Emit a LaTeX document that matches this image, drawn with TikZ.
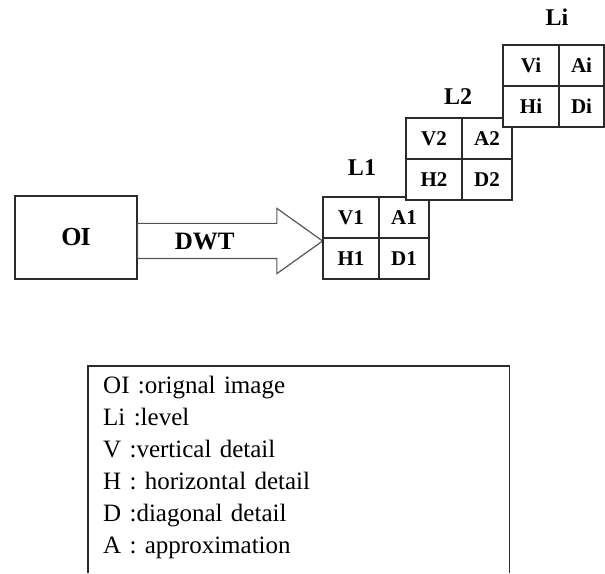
\documentclass[tikz,border=0pt]{standalone}
\usepackage{fontspec}
\setmainfont{Liberation Serif}
\usetikzlibrary{positioning,shapes.arrows}
\definecolor{gridDark}{HTML}{2B2B2B}
\definecolor{arrowGray}{HTML}{555555}
\tikzset{
  dwtCell/.style={
    draw=gridDark,
    fill=white,
    line width=1.6pt,
    minimum width=56pt,
    minimum height=41pt,
    inner sep=0pt,
    outer sep=0pt,
    font=\bfseries\fontsize{21}{24}\selectfont
  },
  dwtNarrow/.style={dwtCell, minimum width=50pt},
  dwtLevel/.style={
    inner sep=0pt,
    font=\bfseries\fontsize{24}{27}\selectfont
  },
  dwtImage/.style={
    draw=gridDark,
    line width=1.6pt,
    minimum width=122pt,
    minimum height=83pt,
    outer sep=0pt,
    font=\bfseries\fontsize{26}{30}\selectfont
  },
  dwtArrow/.style={
    single arrow,
    draw=arrowGray,
    line width=1.2pt,
    minimum height=185pt,
    text height=17pt,
    text depth=0pt,
    inner ysep=8.5pt,
    inner xsep=0pt,
    single arrow head extend=15pt,
    single arrow tip angle=71,
    font=\bfseries\fontsize{25}{30}\selectfont
  },
  dwtLegend/.style={
    inner xsep=15pt,
    inner ysep=10pt,
    text width=391pt,
    align=left,
    font=\fontsize{25}{32}\selectfont
  }
}

\begin{document}
\begin{tikzpicture}[x=1pt, y=1pt]
  \useasboundingbox (0,0) rectangle (605,573);

  % original image and the transform
  \node[dwtImage] (oi) at (76,335.5) {O\kern-1ptI};
  \node[dwtArrow, anchor=tail] (dwt) at ([yshift=-3.5pt]oi.east) {DWT\hspace*{26pt}};

  % level 1
  \node[dwtCell, anchor=north west] (v1) at (323,376) {V1};
  \node[dwtNarrow, right=0pt of v1] (a1) {A1};
  \node[dwtCell, below=0pt of v1] (h1) {H1};
  \node[dwtNarrow, right=0pt of h1] (d1) {D1};
  \node[dwtLevel] (l1) at (362,405.5) {L1};

  % level 2
  \node[dwtCell, anchor=north west] (v2) at (406,455) {V2};
  \node[dwtNarrow, right=0pt of v2] (a2) {A2};
  \node[dwtCell, below=0pt of v2] (h2) {H2};
  \node[dwtNarrow, right=0pt of h2] (d2) {D2};
  \node[dwtLevel] (l2) at (458,476.5) {L2};

  % level i
  \node[dwtCell, anchor=north west] (vi) at (503,528) {Vi};
  \node[dwtNarrow, minimum width=45pt, right=0pt of vi] (ai) {Ai};
  \node[dwtCell, below=0pt of vi] (hi) {Hi};
  \node[dwtNarrow, minimum width=45pt, right=0pt of hi] (di) {Di};
  \node[dwtLevel] (li) at (557,555.5) {Li};

  % legend
  \node[dwtLegend, anchor=north west] (legend) at (88,207)
    {OI :orignal image\\Li :level\\V :vertical detail\\H : horizontal detail\\D :diagonal detail\\A : approximation};
  \coordinate (legendBase) at (0,0);
  \draw[draw=gridDark, line width=1.8pt]
    (legend.north west |- legendBase) |- (legend.north east) -- (legend.north east |- legendBase);
\end{tikzpicture}
\end{document}
